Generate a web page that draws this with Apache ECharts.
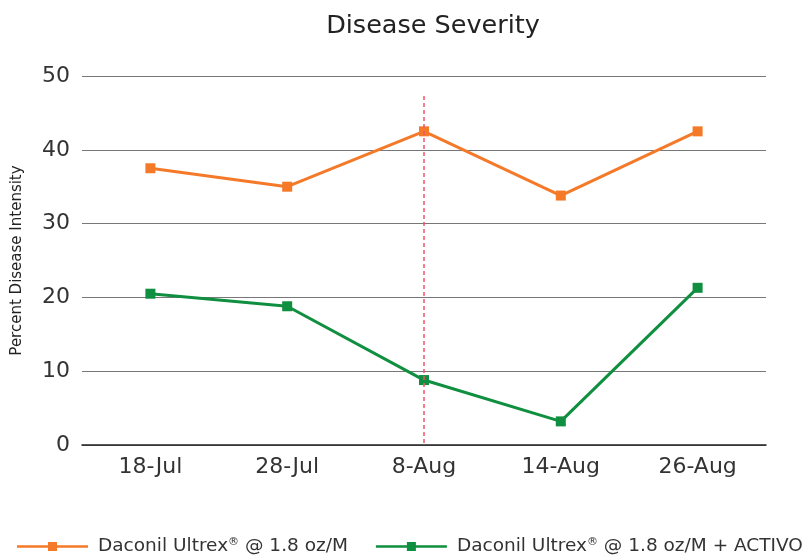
<!DOCTYPE html>
<html><head><meta charset="utf-8">
<script src="https://cdn.jsdelivr.net/npm/echarts@6/dist/echarts.min.js"></script>
<style>html,body{margin:0;padding:0;background:#fff}#c{width:809px;height:557px}</style>
</head><body><div id="c"></div>
<script>
const categories = ['18-Jul','28-Jul','8-Aug','14-Aug','26-Aug'];
const seriesNames = ['Daconil Ultrex® @ 1.8 oz/M','Daconil Ultrex® @ 1.8 oz/M + ACTIVO'];
const daconil = [37.5, 35.0, 42.5, 33.8, 42.5];
const daconilActivo = [20.5, 18.8, 8.8, 3.2, 21.3];
const yTicks = {min:0, max:50, interval:10};
const markerCategory = '8-Aug';
const markerTop = 47.3;
const FONT = '"DejaVu Sans", sans-serif';
const chart = echarts.init(document.getElementById('c'));
chart.setOption({
  animation:false,
  textStyle:{fontFamily:FONT},
  title:{text:'Disease Severity',left:428,top:8,textAlign:'center',textStyle:{fontFamily:FONT,fontSize:25.5,fontWeight:'normal',color:'#222'}},
  grid:{left:82,right:43,top:76,bottom:112,containLabel:false},
  legend:{bottom:-4,left:12,itemWidth:71,itemHeight:9,itemGap:28,
    icon:'path://M0,3.3 L31,3.3 L31,0 L40,0 L40,3.3 L71,3.3 L71,5.7 L40,5.7 L40,9 L31,9 L31,5.7 L0,5.7 Z',
    formatter: n => n.replace('®','{sup|®}'),
    textStyle:{fontFamily:FONT,fontSize:18.5,color:'#333',padding:[0,0,0,5],
      rich:{sup:{fontFamily:FONT,fontSize:11,color:'#333',verticalAlign:'top',padding:[0,0,8,0]}}},
    data:seriesNames},
  xAxis:{type:'category',data:categories,boundaryGap:true,
    axisLine:{lineStyle:{color:'#222',width:1.5}},axisTick:{show:false},
    axisLabel:{fontFamily:FONT,fontSize:22,color:'#333',margin:11}},
  yAxis:{type:'value',min:yTicks.min,max:yTicks.max,interval:yTicks.interval,
    name:'Percent Disease Intensity',nameLocation:'middle',nameGap:57,nameRotate:90,
    nameTextStyle:{fontFamily:FONT,fontSize:15,color:'#222'},
    axisLine:{show:false},axisTick:{show:false},
    axisLabel:{fontFamily:FONT,fontSize:22,color:'#333',margin:12},
    splitLine:{lineStyle:{color:'#777',width:1.2}}},
  series:[
    {name:seriesNames[0],type:'line',data:daconil,symbol:'rect',symbolSize:10,
     lineStyle:{color:'#f47a2a',width:3},itemStyle:{color:'#f47a2a'},
     markLine:{silent:true,symbol:'none',label:{show:false},
       lineStyle:{color:'#f0556a',type:[4,3],width:1.5},
       data:[[{coord:[markerCategory,markerTop]},{coord:[markerCategory,0]}]]}},
    {name:seriesNames[1],type:'line',data:daconilActivo,symbol:'rect',symbolSize:10,
     lineStyle:{color:'#0f8f3f',width:3},itemStyle:{color:'#0f8f3f'}}
  ]
});
</script></body></html>
